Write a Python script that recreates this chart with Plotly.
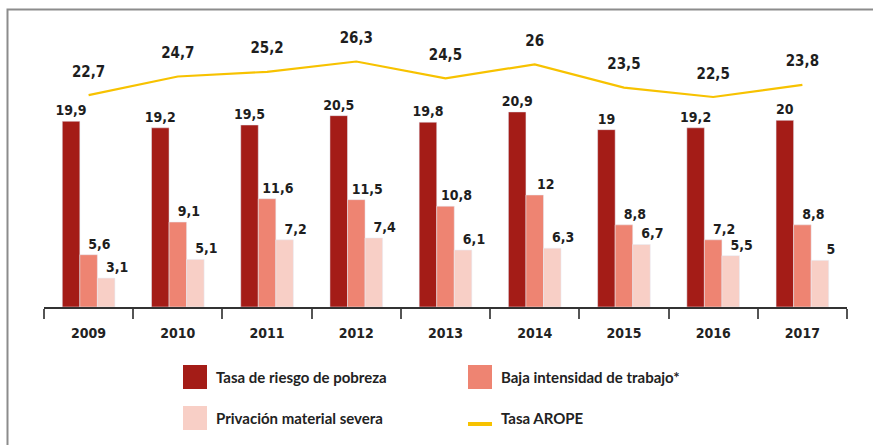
import plotly.graph_objects as go

years = ["2009", "2010", "2011", "2012", "2013", "2014", "2015", "2016", "2017"]
tasa_pobreza = [19.9, 19.2, 19.5, 20.5, 19.8, 20.9, 19.0, 19.2, 20.0]
baja_intensidad = [5.6, 9.1, 11.6, 11.5, 10.8, 12.0, 8.8, 7.2, 8.8]
privacion = [3.1, 5.1, 7.2, 7.4, 6.1, 6.3, 6.7, 5.5, 5.0]
arope = [22.7, 24.7, 25.2, 26.3, 24.5, 26.0, 23.5, 22.5, 23.8]
names = ["Tasa de riesgo de pobreza", "Baja intensidad de trabajo*",
         "Privación material severa", "Tasa AROPE"]

C_DARK = "#A41C17"
C_MED = "#EE8472"
C_LIGHT = "#F8CFC6"
C_LINE = "#F7C200"

W, H = 873, 445
ML, MR, MT, MB = 44, 26, 27, 138
PW, PH = W - ML - MR, H - MT - MB


def fx(px):
    return (px - ML) / PW


def fy(py):
    return (H - MB - py) / PH


def fmt(v):
    s = ("%.1f" % v).replace(".", ",")
    if s.endswith(",0"):
        s = s[:-2]
    return s


FAM = "DejaVu Sans Condensed, DejaVu Sans"
LABEL_FONT = dict(family=FAM, size=14, color="#1e1e1e", weight="bold")
PAD = "\u00a0" * 5

fig = go.Figure()
fig.add_trace(go.Bar(x=years, y=tasa_pobreza, name=names[0], marker_color=C_DARK,
                     text=[fmt(v) for v in tasa_pobreza], textposition="outside",
                     textfont=LABEL_FONT, cliponaxis=False, constraintext="none"))
fig.add_trace(go.Bar(x=years, y=baja_intensidad, name=names[1], marker_color=C_MED,
                     text=[PAD + fmt(v) for v in baja_intensidad], textposition="outside",
                     textfont=LABEL_FONT, cliponaxis=False, constraintext="none"))
fig.add_trace(go.Bar(x=years, y=privacion, name=names[2], marker_color=C_LIGHT,
                     text=[PAD + fmt(v) for v in privacion], textposition="outside",
                     textfont=LABEL_FONT, cliponaxis=False, constraintext="none"))
fig.add_trace(go.Scatter(x=years, y=arope, name=names[3], mode="lines+markers+text",
                         line=dict(color=C_LINE, width=2.2),
                         marker=dict(size=22, color="rgba(0,0,0,0)"),
                         text=[fmt(v) for v in arope], textposition="top center",
                         textfont=dict(family=FAM, size=15, color="#1e1e1e", weight="bold"),
                         cliponaxis=False))

shapes = []
# frame
shapes.append(dict(type="path", xref="paper", yref="paper",
                   path="M %f %f L %f %f L %f %f" % (fx(7.5), fy(446), fx(7.5), fy(9.5), fx(875), fy(9.5)),
                   line=dict(color="#8c8c8c", width=2)))
annotations = []
# legend
leg = [
    (183, 377, names[0], C_DARK, "box"),
    (468, 377, names[1], C_MED, "box"),
    (183, 418, names[2], C_LIGHT, "box"),
    (468, 418, names[3], C_LINE, "line"),
]
for x0, yc, nm, col, kind in leg:
    if kind == "box":
        shapes.append(dict(type="rect", xref="paper", yref="paper",
                           x0=fx(x0), x1=fx(x0 + 24), y0=fy(yc - 12), y1=fy(yc + 12),
                           fillcolor=col, line=dict(width=0)))
    else:
        shapes.append(dict(type="rect", xref="paper", yref="paper",
                           x0=fx(x0), x1=fx(x0 + 24), y0=fy(yc + 4), y1=fy(yc + 8),
                           fillcolor=col, line=dict(width=0)))
    annotations.append(dict(xref="paper", yref="paper", x=fx(x0 + 31), y=fy(yc),
                            xanchor="left", yanchor="middle", text=nm, showarrow=False,
                            font=dict(family="Lato", size=15, color="#222222", weight="bold")))

fig.update_layout(
    width=W, height=H,
    margin=dict(l=ML, r=MR, t=MT, b=MB),
    paper_bgcolor="white", plot_bgcolor="white",
    barmode="group", bargap=0.41, bargroupgap=0,
    showlegend=False,
    shapes=shapes, annotations=annotations,
    xaxis=dict(type="category", range=[-0.5, len(years) - 0.5], showline=True,
               linecolor="#333333", linewidth=2,
               ticks="outside", tickson="boundaries", ticklen=10, tickcolor="#555555", tickwidth=1.5,
               tickfont=dict(family=FAM, size=14, color="#222222", weight="bold"),
               ticklabelstandoff=12, showgrid=False),
    yaxis=dict(range=[0, 30], visible=False, showgrid=False, zeroline=False),
)

fig.write_html("out.html", config={"displayModeBar": False},
               post_script="document.body.style.margin='0';")
